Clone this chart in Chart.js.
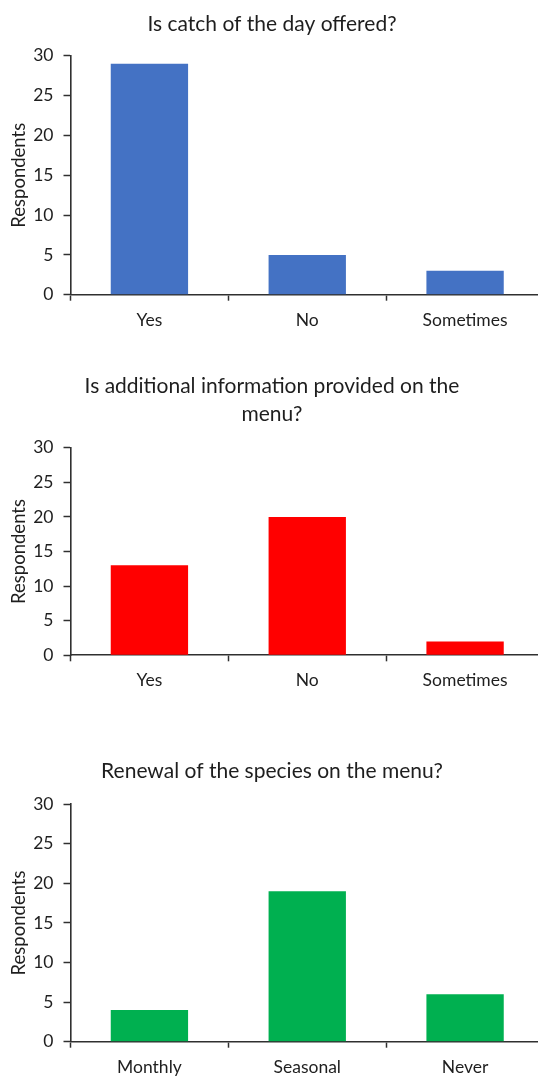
<!DOCTYPE html>
<html>
<head>
<meta charset="utf-8">
<script src="https://cdn.jsdelivr.net/npm/chart.js@4"></script>
<style>
  html, body { margin: 0; padding: 0; background: #fff; overflow: hidden; width: 538px; height: 1077px; }
  .panel { position: absolute; left: 0; }
</style>
</head>
<body>
<div class="panel" style="top:0px"><canvas id="c1" width="546" height="330"></canvas></div>
<div class="panel" style="top:340px"><canvas id="c2" width="546" height="360"></canvas></div>
<div class="panel" style="top:740px"><canvas id="c3" width="546" height="337"></canvas></div>
<script>
// Survey answers, one small set per question
const catchLabels = ['Yes', 'No', 'Sometimes'];
const catchValues = [29, 5, 3];

const infoLabels = ['Yes', 'No', 'Sometimes'];
const infoValues = [13, 20, 2];

const renewalLabels = ['Monthly', 'Seasonal', 'Never'];
const renewalValues = [4, 19, 6];

const yMin = 0;
const yMax = 30;
const yStep = 5;
const yTitle = 'Respondents';

const FONT = 'Lato, "Open Sans", sans-serif';
const TEXT = '#1e1e1e';
const AXIS = '#303030';

function makeChart(id, labels, values, color, title, opts) {
  return new Chart(document.getElementById(id), {
    type: 'bar',
    data: {
      labels: labels,
      datasets: [{
        data: values,
        backgroundColor: color,
        borderWidth: 0,
        categoryPercentage: 1,
        barPercentage: 0.49
      }]
    },
    options: {
      responsive: false,
      animation: false,
      devicePixelRatio: 1,
      layout: { padding: { left: 0, right: 2, top: 0, bottom: 0 } },
      plugins: {
        legend: { display: false },
        tooltip: { enabled: false },
        title: {
          display: true,
          text: title,
          color: TEXT,
          font: { family: FONT, size: 21, weight: 'normal', lineHeight: opts.titleLH },
          padding: { top: opts.titleTop, bottom: opts.titleBottom }
        }
      },
      scales: {
        x: {
          offset: true,
          border: { display: true, color: AXIS, width: 1.6 },
          grid: {
            offset: true,
            drawOnChartArea: false,
            drawTicks: true,
            tickLength: 6,
            tickWidth: 1.5,
            tickColor: AXIS,
            color: AXIS
          },
          ticks: {
            color: TEXT,
            padding: 9,
            font: { family: FONT, size: 17.5 },
            maxRotation: 0
          },
          afterFit: function (s) { s.height = opts.xHeight; }
        },
        y: {
          min: yMin,
          max: yMax,
          border: { display: true, color: AXIS, width: 1.6 },
          grid: {
            drawOnChartArea: false,
            drawTicks: true,
            tickLength: 7,
            tickWidth: 1.5,
            tickColor: AXIS,
            color: AXIS
          },
          ticks: {
            stepSize: yStep,
            color: TEXT,
            padding: 10,
            font: { family: FONT, size: 17.5 }
          },
          title: {
            display: true,
            text: yTitle,
            color: TEXT,
            font: { family: FONT, size: 18.5, lineHeight: 1.2 },
            padding: { top: 7.5, bottom: 0 }
          },
          afterFit: function (s) { s.width = 70.5; }
        }
      }
    }
  });
}

makeChart('c1', catchLabels, catchValues, '#4472C4', 'Is catch of the day offered?',
  { titleLH: 1.2, titleTop: 11.2, titleBottom: 19.4, xHeight: 35.3 });

makeChart('c2', infoLabels, infoValues, '#FF0000',
  ['Is additional information provided on the', 'menu?'],
  { titleLH: 1.333, titleTop: 32, titleBottom: 19.7, xHeight: 44.7 });

makeChart('c3', renewalLabels, renewalValues, '#00B050', 'Renewal of the species on the menu?',
  { titleLH: 1.2, titleTop: 18.2, titleBottom: 20.8, xHeight: 35.3 });
</script>
</body>
</html>
